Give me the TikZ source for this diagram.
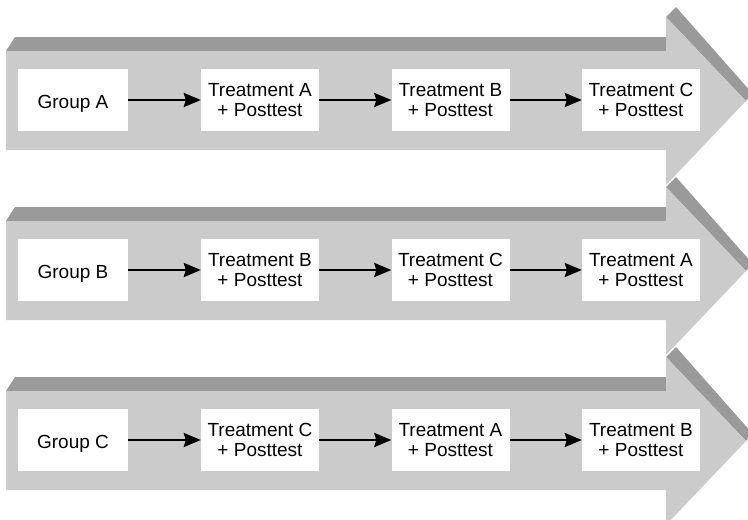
\documentclass[tikz,border=0pt]{standalone}
\usepackage{fontspec}
\setmainfont{Liberation Sans}
\usetikzlibrary{arrows.meta}
\definecolor{facegray}{HTML}{CBCBCB}
\definecolor{edgegray}{HTML}{9A9A9A}
\begin{document}
\begin{tikzpicture}[x=1pt,y=-1pt,
  stagebox/.style={fill=white,draw=none,minimum height=62pt,inner sep=0pt,
    align=center,font=\fontsize{19}{20}\selectfont},
  groupbox/.style={stagebox,minimum width=110pt,text height=17pt,text depth=0pt},
  treatbox/.style={stagebox,minimum width=118pt},
  flow/.style={line width=2.4pt,-{Stealth[length=17pt,width=14pt,inset=2pt]}}]
\useasboundingbox (0,0) rectangle (748,520);
\clip (0,0) rectangle (748,520);
% one block arrow per group, each shifted down by 170pt
\foreach \dy/\g/\ta/\tb/\tc in {0/A/A/B/C,170/B/B/C/A,340/C/C/A/B}{
  \begin{scope}[yshift=-\dy pt]
    % top face of the shaft and of the head
    \fill[edgegray] (6,51) -- (15,37) -- (666,37) -- (666,51) -- cycle;
    \fill[edgegray] (666,17) -- (676,7) -- (752,93) -- (746,101) -- cycle;
    % front face
    \fill[facegray] (6,51) -- (666,51) -- (666,17) -- (746,101) -- (666,185)
      -- (666,150) -- (6,150) -- cycle;
    \node[groupbox] (g\g) at (73,100) {Group \g};
    \node[treatbox] (s1\g) at (260,100) {Treatment \ta\\+ Posttest};
    \node[treatbox] (s2\g) at (450.5,100) {Treatment \tb\\+ Posttest};
    \node[treatbox] (s3\g) at (641,100) {Treatment \tc\\+ Posttest};
    \draw[flow] (g\g) -- (s1\g);
    \draw[flow] (s1\g) -- (s2\g);
    \draw[flow] (s2\g) -- (s3\g);
  \end{scope}
}
\end{tikzpicture}
\end{document}
